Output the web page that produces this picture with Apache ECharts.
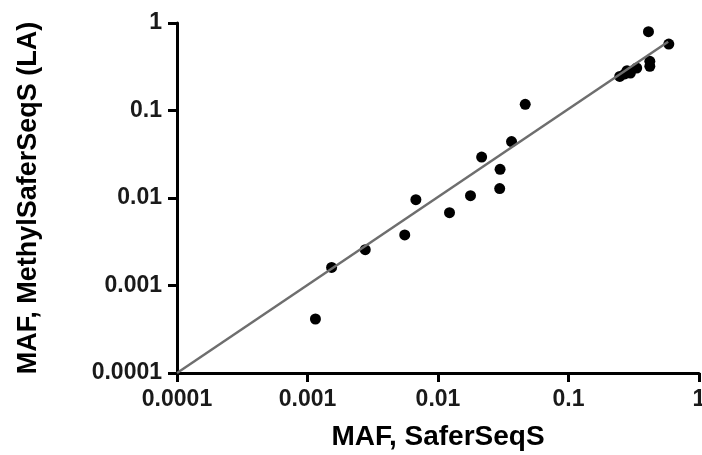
<!DOCTYPE html>
<html><head><meta charset="utf-8">
<script src="https://cdn.jsdelivr.net/npm/echarts@6/dist/echarts.min.js"></script>
<style>html,body{margin:0;padding:0;background:#fff}#c{width:702px;height:455px}</style>
</head><body><div id="c"></div>
<script>
const xTitle = "MAF, SaferSeqS";
const yTitle = "MAF, MethylSaferSeqS (LA)";
const tickLabels = ["0.0001", "0.001", "0.01", "0.1", "1"];
const xValues = [0.00115, 0.00153, 0.00277, 0.00556, 0.00677, 0.01225, 0.01774, 0.0216, 0.0299, 0.0297, 0.0366, 0.0466, 0.247, 0.270, 0.281, 0.298, 0.333, 0.41, 0.42, 0.42, 0.587];
const yValues = [0.000414, 0.00161, 0.00257, 0.00378, 0.00957, 0.00679, 0.01064, 0.0294, 0.0213, 0.0128, 0.0441, 0.1175, 0.245, 0.262, 0.285, 0.268, 0.306, 0.796, 0.365, 0.32, 0.575];
const fitX = [0.0001, 0.58];
const fitY = [0.0001, 0.61];

const chart = echarts.init(document.getElementById('c'), null, {renderer: 'canvas'});
const lbl = v => { const i = Math.round(Math.log10(v)) + 4; return tickLabels[i] !== undefined ? tickLabels[i] : ''; };
const font = 'Liberation Sans, Arial, sans-serif';
chart.setOption({
  animation: false,
  backgroundColor: '#fff',
  grid: {left: 177, right: 3, top: 23, bottom: 82, containLabel: false, outerBoundsMode: 'none'},
  xAxis: {
    type: 'log', logBase: 10, min: 0.0001, max: 1,
    name: xTitle, nameLocation: 'middle', nameGap: 50,
    nameTextStyle: {fontFamily: font, fontWeight: 'bold', fontSize: 28, color: '#000'},
    axisLine: {lineStyle: {color: '#000', width: 3}},
    axisTick: {lineStyle: {color: '#000', width: 3}, length: 9},
    axisLabel: {formatter: lbl, fontFamily: font, fontWeight: 'bold', fontSize: 23, color: '#1a1a1a', margin: 15, showMaxLabel: true},
    splitLine: {show: false}, minorTick: {show: false}
  },
  yAxis: {
    type: 'log', logBase: 10, min: 0.0001, max: 1,
    name: yTitle, nameLocation: 'middle', nameGap: 135,
    nameTextStyle: {fontFamily: font, fontWeight: 'bold', fontSize: 27, color: '#000'},
    axisLine: {lineStyle: {color: '#000', width: 3}},
    axisTick: {lineStyle: {color: '#000', width: 3}, length: 9},
    axisLabel: {formatter: lbl, fontFamily: font, fontWeight: 'bold', fontSize: 23, color: '#1a1a1a', margin: 15},
    splitLine: {show: false}
  },
  series: [
    {type: 'line', data: fitX.map((x, i) => [x, fitY[i]]), symbol: 'none', z: 3,
     lineStyle: {color: '#6e6e6e', width: 2.5}},
    {type: 'scatter', data: xValues.map((x, i) => [x, yValues[i]]), symbolSize: 11, z: 2,
     itemStyle: {color: '#000', opacity: 1}}
  ]
});
</script></body></html>
